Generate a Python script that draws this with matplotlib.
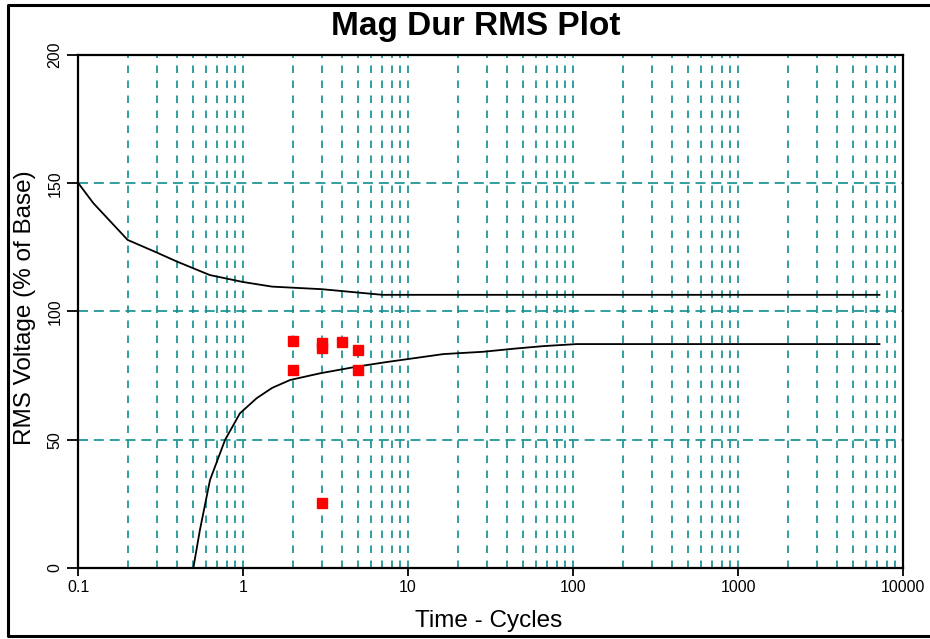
import matplotlib
matplotlib.use("Agg")
import matplotlib.pyplot as plt
from matplotlib.ticker import LogLocator, FixedLocator, NullFormatter
from matplotlib.lines import Line2D

# upper limit curve (time in cycles, % of base)
upper_t = [0.1, 0.124, 0.2, 0.3, 0.4, 0.63, 1.0, 1.5, 3.0, 7.0, 7200]
upper_v = [150.2, 142.2, 127.9, 123.0, 119.4, 114.2, 111.5, 109.7, 108.7, 106.5, 106.5]

# lower limit curve
lower_t = [0.5, 0.548, 0.631, 0.778, 0.958, 1.21, 1.5, 1.93, 2.93, 4.89, 7.43,
           16.4, 28.5, 45.6, 66.0, 105.0, 7200]
lower_v = [0.0, 14.8, 34.3, 49.9, 60.3, 66.2, 70.2, 73.3, 75.9, 78.5, 80.3,
           83.4, 84.3, 85.6, 86.5, 87.3, 87.3]

# recorded events
event_t = [2, 2, 3, 3, 3, 4, 5, 5]
event_v = [88.6, 77.2, 87.7, 85.8, 25.5, 88.0, 85.0, 77.2]

x_ticks = [0.1, 1, 10, 100, 1000, 10000]
x_labels = ["0.1", "1", "10", "100", "1000", "10000"]
y_ticks = [0, 50, 100, 150, 200]

plt.rcParams['font.family'] = ['Liberation Sans', 'DejaVu Sans']

fig = plt.figure(figsize=(9.3, 6.39), dpi=100)
ax = fig.add_axes([78/930, 1-568/639, (903-78)/930, (568-55)/639])

grid_col = "#0f8f8f"
ax.plot(upper_t, upper_v, color="black", lw=1.3, zorder=3)
ax.plot(lower_t, lower_v, color="black", lw=1.3, zorder=3)
ax.plot(event_t, event_v, ls="none", marker="s", ms=6.5, color="#ff0000",
        mec="#ff0000", zorder=4)

ax.set_xscale("log")
ax.set_xlim(0.1, 10000)
ax.set_ylim(0, 200)

ax.xaxis.set_major_locator(FixedLocator(x_ticks))
ax.set_xticklabels(x_labels, fontsize=11.5)
ax.xaxis.set_minor_locator(LogLocator(base=10, subs=range(2, 10), numticks=20))
ax.xaxis.set_minor_formatter(NullFormatter())
ax.set_yticks(y_ticks)
ax.set_yticklabels([str(v) for v in y_ticks], fontsize=11.5, rotation=90, va="center")

ax.tick_params(axis="x", which="major", length=6, width=1.3, pad=3)
ax.tick_params(axis="x", which="minor", length=0)
ax.tick_params(axis="y", length=8, width=1.3, pad=3)

ax.grid(True, axis="x", which="both", color=grid_col, ls=(0, (4.5, 4.5)), lw=1.2)
ax.grid(True, axis="y", which="major", color=grid_col, ls=(0, (6, 3.5)), lw=1.2)
ax.set_axisbelow(True)

for s in ax.spines.values():
    s.set_linewidth(1.6)
    s.set_color("black")

fig.text(476/930, 1-35/639, "Mag Dur RMS Plot", fontsize=24, fontweight="bold",
         ha="center", va="baseline")
fig.text(489/930, 1-627/639, "Time - Cycles", fontsize=17.5, ha="center", va="baseline")
fig.text(25/930, 1-308/639, "RMS Voltage (% of Base)", fontsize=17.5, rotation=90,
         ha="center", va="center")

# frame around the picture (right edge runs off the image)
bx0, by0, by1 = 8/930, 1-636/639, 1-5/639
fig.add_artist(Line2D([1.01, bx0, bx0, 1.01], [by1, by1, by0, by0],
                      transform=fig.transFigure, color="black", lw=2.2))

fig.savefig("out.png", dpi=100)
